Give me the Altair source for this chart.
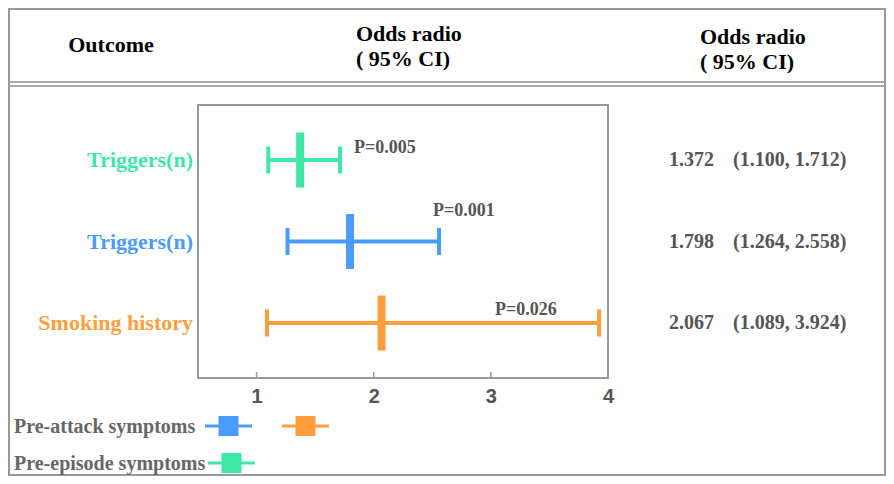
import altair as alt
import pandas as pd

# ---- data ----
row_ids = ["r1", "r2", "r3"]
outcomes = ["Triggers(n)", "Triggers(n)", "Smoking history"]
groups = ["Pre-episode symptoms", "Pre-attack symptoms", "Pre-attack symptoms"]
or_vals = [1.372, 1.798, 2.067]
ci_low = [1.100, 1.264, 1.089]
ci_high = [1.712, 2.558, 3.924]
p_labels = ["P=0.005", "P=0.001", "P=0.026"]
colors = ["#3EE6A8", "#4A9BFF", "#FF9E3D"]
tick_values = [1, 2, 3, 4]

df = pd.DataFrame({
    "row": row_ids,
    "outcome": outcomes,
    "group": groups,
    "or": or_vals,
    "lo": ci_low,
    "hi": ci_high,
    "p": p_labels,
})
df["or_txt"] = df["or"].map(lambda v: f"{v:.3f}")
df["ci_txt"] = [f"({a:.3f}, {b:.3f})" for a, b in zip(ci_low, ci_high)]
ticks_df = pd.DataFrame({"t": tick_values})
one = pd.DataFrame({"k": [0]})

W, H = 410, 273
SERIF = "Liberation Serif"
SANS = "Liberation Sans"
GRAY = "#555555"

xscale = alt.Scale(domain=[0.5, 4.0], nice=False, zero=False)
yscale = alt.Scale(type="point", domain=row_ids, padding=0.675)
cscale = alt.Scale(domain=row_ids, range=colors)

x_axis = alt.Axis(values=tick_values, format="d", title=None, grid=False, domain=False, ticks=False,
                  labelFont=SANS, labelFontSize=20, labelFontWeight="bold",
                  labelColor=GRAY, labelPadding=8, labelFlush=False)

Y = alt.Y("row:N", scale=yscale, axis=None)
C = alt.Color("row:N", scale=cscale, legend=None)

base = alt.Chart(df)

whisker = base.mark_rule(strokeWidth=4).encode(
    x=alt.X("lo:Q", scale=xscale, axis=x_axis), x2="hi:Q", y=Y, color=C)
cap_lo = base.mark_tick(thickness=4, size=27, opacity=1).encode(
    x=alt.X("lo:Q", scale=xscale), y=Y, color=C)
cap_hi = base.mark_tick(thickness=4, size=27, opacity=1).encode(
    x=alt.X("hi:Q", scale=xscale), y=Y, color=C)
mean = base.mark_tick(thickness=8, size=55, opacity=1).encode(
    x=alt.X("or:Q", scale=xscale), y=Y, color=C)

axis_ticks = alt.Chart(ticks_df).mark_rule(color="#999999", strokeWidth=1.5).encode(
    x=alt.X("t:Q", scale=xscale), y=alt.value(H - 1), y2=alt.value(H - 6))

left_labels = base.mark_text(align="right", baseline="middle", font=SERIF,
                             fontSize=22, fontWeight="bold").encode(
    x=alt.value(-5), y=Y, color=C, text="outcome:N")

or_text = base.mark_text(align="left", baseline="middle", font=SERIF, fontSize=20,
                         fontWeight="bold", color=GRAY).encode(
    x=alt.value(471), y=Y, text="or_txt:N")
ci_text = base.mark_text(align="left", baseline="middle", font=SERIF, fontSize=20,
                         fontWeight="bold", color=GRAY).encode(
    x=alt.value(535), y=Y, text="ci_txt:N")

p_offsets = {"r1": (14, -12), "r2": (-6, -31), "r3": (-104, -13)}
p_layers = []
for rid, (dx, dy) in p_offsets.items():
    p_layers.append(
        base.transform_filter(alt.datum.row == rid).mark_text(
            align="left", baseline="middle", font=SERIF, fontSize=18,
            fontWeight="bold", color=GRAY, dx=dx, dy=dy).encode(
            x=alt.X("hi:Q", scale=xscale), y=Y, text="p:N"))

def fixed_text(txt, x, y, size=22, color="#000000", align="left"):
    return alt.Chart(one).mark_text(text=txt, align=align, baseline="middle", font=SERIF,
                                    fontSize=size, fontWeight="bold", color=color).encode(
        x=alt.value(x), y=alt.value(y))

headers = [
    fixed_text("Outcome", -87, -60, align="center"),
    fixed_text("Odds radio", 158, -71),
    fixed_text("( 95% CI)", 158, -46),
    fixed_text("Odds radio", 502, -68),
    fixed_text("( 95% CI)", 502, -43),
]

frame = alt.Chart(one).mark_rect(fillOpacity=0, stroke="#999999", strokeWidth=2).encode(
    x=alt.value(-189), x2=alt.value(687), y=alt.value(-96), y2=alt.value(370))
hline1 = alt.Chart(one).mark_rule(color="#aaaaaa", strokeWidth=2).encode(
    x=alt.value(-189), x2=alt.value(687), y=alt.value(-23))
hline2 = alt.Chart(one).mark_rule(color="#aaaaaa", strokeWidth=2).encode(
    x=alt.value(-189), x2=alt.value(687), y=alt.value(-19))

# legend (drawn by hand)
leg_text = [
    fixed_text("Pre-attack symptoms", -184, 322, size=20, color="#666666"),
    fixed_text("Pre-episode symptoms", -184, 359, size=20, color="#666666"),
]
def leg_key(x1, x2, y, color):
    line = alt.Chart(one).mark_rule(color=color, strokeWidth=3).encode(
        x=alt.value(x1), x2=alt.value(x2), y=alt.value(y))
    sq = alt.Chart(one).mark_square(color=color, size=400, opacity=1).encode(
        x=alt.value((x1 + x2) / 2), y=alt.value(y))
    return [line, sq]

legend_keys = (leg_key(7, 54, 321, colors[1]) + leg_key(84, 131, 321, colors[2])
               + leg_key(10, 57, 358, colors[0]))

chart = alt.layer(
    frame, hline1, hline2, *headers,
    whisker, cap_lo, cap_hi, mean, axis_ticks,
    left_labels, or_text, ci_text, *p_layers,
    *leg_text, *legend_keys,
).properties(
    width=W, height=H,
    autosize=alt.AutoSizeParams(type="none"),
    padding={"left": 190, "top": 97, "right": 278, "bottom": 98},
).configure_view(stroke="#999999", strokeWidth=2)

chart.save("out.html", embed_options={"renderer": "svg", "actions": False})
